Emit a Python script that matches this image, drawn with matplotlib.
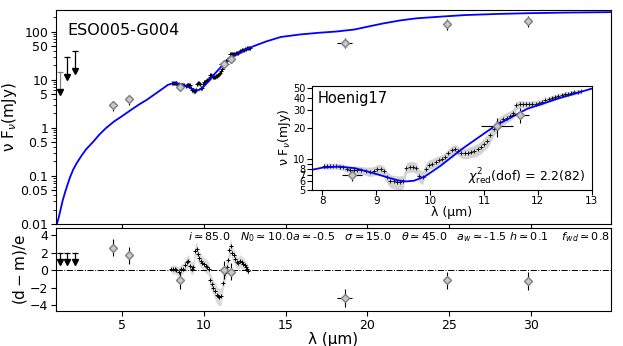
import matplotlib
matplotlib.use("Agg")
import matplotlib.pyplot as plt
from matplotlib.ticker import NullFormatter, FixedLocator, FixedFormatter

# model SED (micron, mJy)
model_wl = [1.0, 1.1, 1.2, 1.35, 1.5, 1.65, 1.8, 2.0, 2.2, 2.5, 2.8, 3.2, 3.6, 4.0,
            4.5, 5.0, 5.5, 6.0, 6.5, 7.0, 7.5, 7.8, 8.0, 8.3, 8.6, 8.8, 9.0, 9.2,
            9.4, 9.55, 9.7, 9.9, 10.2, 10.6, 11.2, 11.8, 12.4, 13.0, 13.8, 14.7,
            15.9, 17.0, 18.1, 19.2, 20.2, 21.0, 22.0, 23.0, 24.6, 26.0, 28.0,
            29.8, 32.0, 34.9]
model_flux = [0.01, 0.013, 0.018, 0.03, 0.045, 0.065, 0.092, 0.135, 0.18, 0.26,
              0.36, 0.5, 0.72, 0.98, 1.35, 1.75, 2.3, 3.0, 3.8, 5.0, 6.6, 7.8,
              8.2, 8.4, 8.1, 7.6, 7.1, 6.6, 6.15, 6.0, 6.1, 6.7, 8.6, 12.6, 21.0,
              31.0, 39.5, 49.0, 62.0, 77.0, 87.0, 94.0, 100.0, 110.0, 130.0,
              148.0, 170.0, 188.0, 205.0, 220.0, 232.0, 240.0, 247.0, 253.0]

# Hoenig17 spectrum
spec_wl = [8.02, 8.08, 8.14, 8.20, 8.26, 8.32, 8.38, 8.45, 8.52, 8.58, 8.65, 8.72,
           8.80, 8.88, 8.95, 9.02, 9.08, 9.14, 9.20, 9.26, 9.32, 9.38, 9.44, 9.50,
           9.56, 9.62, 9.68, 9.74, 9.80, 9.86, 9.92, 9.98, 10.04, 10.10, 10.16,
           10.22, 10.28, 10.34, 10.40, 10.46, 10.52, 10.58, 10.64, 10.70, 10.76,
           10.82, 10.88, 10.94, 11.00, 11.06, 11.12, 11.18, 11.24, 11.30, 11.36,
           11.42, 11.48, 11.54, 11.60, 11.66, 11.72, 11.78, 11.84, 11.90, 11.96,
           12.02, 12.08, 12.14, 12.20, 12.26, 12.32, 12.38, 12.44, 12.50, 12.56,
           12.62, 12.68, 12.74, 12.80]
spec_flux = [8.5, 8.5, 8.5, 8.5, 8.5, 8.4, 8.3, 8.0, 7.8, 7.8, 7.8, 7.7, 7.6, 7.5,
             7.6, 7.9, 7.9, 7.6, 6.6, 6.1, 6.0, 5.9, 5.9, 6.0, 8.2, 8.4, 8.4, 8.2,
             6.8, 6.6, 8.0, 8.8, 9.0, 9.4, 9.7, 10.0, 10.5, 11.3, 12.2, 12.5, 12.0,
             11.4, 11.3, 11.5, 11.8, 12.0, 12.4, 13.0, 14.0, 15.0, 17.0, 19.5,
             21.5, 23.0, 24.5, 25.5, 26.5, 28.0, 33.5, 34.5, 34.5, 34.5, 34.5,
             34.8, 35.0, 35.5, 36.0, 37.5, 38.5, 39.5, 40.5, 41.5, 42.0, 43.0,
             43.5, 44.5, 45.0, 45.5, 46.0]
spec_err = [0.6, 0.6, 0.6, 0.6, 0.6, 0.6, 0.6, 0.6, 0.7, 0.7, 0.7, 0.7, 0.7, 0.8,
            0.8, 0.9, 0.9, 0.9, 0.9, 0.9, 0.9, 0.9, 0.9, 0.9, 1.0, 1.0, 1.0, 1.0,
            1.0, 1.0, 1.0, 1.0, 1.0, 1.0, 1.0, 1.0, 1.1, 1.2, 1.3, 1.3, 1.3, 1.3,
            1.3, 1.4, 1.5, 1.6, 1.7, 1.8, 2.0, 2.2, 2.5, 2.8, 3.0, 3.0, 3.0, 3.0,
            3.0, 3.0, 3.0, 3.0, 2.8, 2.5, 2.5, 2.5, 2.5, 2.5, 2.5, 2.5, 2.5, 2.5,
            2.5, 2.5, 2.5, 2.5, 2.5, 2.5, 2.5, 2.5, 2.5]

# photometry
phot_wl = [4.46, 5.42, 8.55, 11.24, 11.67, 18.6, 24.85, 29.8]
phot_flux = [2.95, 3.9, 6.9, 21.0, 27.0, 59.0, 143.0, 167.0]
phot_xerr = [0.0, 0.0, 0.19, 0.29, 0.17, 0.44, 0.0, 0.0]
phot_yerr = [0.7, 0.9, 0.8, 4.5, 4.5, 13.0, 35.0, 40.0]
phot_res = [2.6, 1.7, -1.15, 0.05, -0.15, -3.2, -1.15, -1.25]

# upper limits
ul_wl = [1.2, 1.6, 2.1]
ul_flux = [14.7, 29.0, 40.0]

# residuals of the spectrum
res_wl = [8.0, 8.1, 8.2, 8.3, 8.45, 8.6, 8.7, 8.85, 8.95, 9.05, 9.15, 9.25, 9.35,
          9.46, 9.55, 9.62, 9.7, 9.8, 9.9, 10.0, 10.1, 10.2, 10.3, 10.38, 10.48,
          10.58, 10.69, 10.78, 10.88, 10.95, 11.05, 11.15, 11.3, 11.4, 11.5,
          11.56, 11.64, 11.72, 11.81, 11.9, 12.0, 12.1, 12.2, 12.3, 12.4, 12.5,
          12.58, 12.65, 12.72]
res_val = [0.15, 0.1, 0.1, 0.05, -0.2, 0.1, 0.2, 0.6, 0.9, 1.1, 0.5, 0.2, 0.4,
           2.2, 2.5, 1.9, 1.4, 1.1, 0.8, 0.7, 0.5, 0.4, 0.1, -1.1, -1.6, -2.0,
           -2.4, -2.8, -3.0, -3.1, -3.0, -1.5, -0.3, 0.4, 1.2, 2.3, 2.8, 2.0,
           1.7, 1.3, 0.95, 0.8, 1.1, 0.9, 0.75, 0.6, 0.4, 0.2, -0.1]
res_band = [0.5, 0.5, 0.5, 0.5, 0.6, 0.6, 0.6, 0.6, 0.7, 0.7, 0.7, 0.7, 0.8,
            0.8, 0.8, 0.8, 0.8, 0.8, 0.8, 0.8, 0.8, 0.8, 0.8, 0.8, 0.9, 0.9,
            1.0, 1.0, 1.0, 1.0, 1.0, 1.0, 0.9, 0.9, 0.9, 0.9, 0.9, 0.8, 0.8,
            0.8, 0.7, 0.7, 0.7, 0.7, 0.7, 0.6, 0.6, 0.6, 0.6]

main_yticks = [0.01, 0.05, 0.1, 0.5, 1, 5, 10, 50, 100]
main_ylabels = ['0.01', '0.05', '0.1', '0.5', '1', '5', '10', '50', '100']
inset_yticks = [5, 6, 7, 8, 9, 10, 20, 30, 40, 50]
inset_ylabels = ['5', '6', '7', '8', '', '10', '20', '30', '40', '50']

params = (r'$i\simeq$85.0   $N_0\simeq$10.0$a\simeq$-0.5   $\sigma\simeq$15.0   '
          r'$\theta\simeq$45.0   $a_w\simeq$-1.5 $h\simeq$0.1    $f_{wd}\simeq$0.8')

band_col = '#d3d3d3'
dia_face = '#c8c8c8'

fig = plt.figure(figsize=(6.23, 3.46), dpi=100)
ax = fig.add_axes([0.0899, 0.3526, 0.8908, 0.6185])
axr = fig.add_axes([0.0899, 0.1003, 0.8908, 0.2407], sharex=ax)
axi = fig.add_axes([0.5003, 0.4523, 0.4494, 0.2991])

# ---- main panel
lo = [f - e for f, e in zip(spec_flux, spec_err)]
hi = [f + e for f, e in zip(spec_flux, spec_err)]
ax.fill_between(spec_wl, lo, hi, color=band_col, lw=0)
ax.plot(spec_wl, spec_flux, '+', color='k', ms=3, mew=0.7)
ax.plot(model_wl, model_flux, '-', color='blue', lw=1.3)
ax.errorbar(phot_wl, phot_flux, xerr=phot_xerr, yerr=phot_yerr, fmt='D',
            mfc=dia_face, mec='grey', ms=4.5, ecolor='k', elinewidth=0.8, capsize=0)
for k, (w, f) in enumerate(zip(ul_wl, ul_flux)):
    lc = 'grey' if k == 0 else 'k'
    ax.plot([w, w], [f, f / 2.6], color=lc, lw=0.9)
    ax.plot([w], [f], '_', color=lc, ms=5, mew=0.9)
    ax.plot([w], [f / 2.6], 'v', color='k', ms=4.5)
ax.set_yscale('log')
ax.set_ylim(0.01, 280)
ax.set_xlim(0.95, 34.9)
ax.yaxis.set_major_locator(FixedLocator(main_yticks))
ax.yaxis.set_major_formatter(FixedFormatter(main_ylabels))
ax.yaxis.set_minor_formatter(NullFormatter())
ax.tick_params(axis='x', labelbottom=False)
ax.tick_params(labelsize=9, pad=2)
ax.set_ylabel(r'ν F$_\nu$(mJy)', fontsize=11, labelpad=1)
ax.text(0.02, 0.94, 'ESO005-G004', transform=ax.transAxes, fontsize=11.5,
        ha='left', va='top')

# ---- residual panel
rlo = [v - b for v, b in zip(res_val, res_band)]
rhi = [v + b for v, b in zip(res_val, res_band)]
axr.fill_between(res_wl, rlo, rhi, color=band_col, lw=0, alpha=0.8)
axr.plot(res_wl, res_val, '+', color='k', ms=3, mew=0.7)
axr.axhline(0, color='k', ls='-.', lw=0.7)
axr.errorbar(phot_wl, phot_res, xerr=phot_xerr, yerr=1.0, fmt='D', mfc=dia_face,
             mec='grey', ms=4.5, ecolor='k', elinewidth=0.8, capsize=0)
for w in ul_wl:
    axr.plot([w, w], [2.0, 0.9], color='k', lw=0.9)
    axr.plot([w], [2.0], '_', color='k', ms=5, mew=0.9)
    axr.plot([w], [0.9], 'v', color='k', ms=4.5)
axr.set_ylim(-4.7, 4.85)
axr.set_yticks([-4, -2, 0, 2, 4])
axr.set_xticks([5, 10, 15, 20, 25, 30])
axr.tick_params(labelsize=9, pad=2)
axr.set_xlabel('λ (μm)', fontsize=11, labelpad=0)
axr.set_ylabel(r'$\mathrm{(d-m)/e}$', fontsize=11, labelpad=1)
axr.text(0.998, 0.97, params, transform=axr.transAxes, fontsize=8,
         ha='right', va='top')

# ---- inset
axi.fill_between(spec_wl, lo, hi, color=band_col, lw=0)
axi.plot(spec_wl, spec_flux, '+', color='k', ms=3, mew=0.6)
axi.plot(model_wl, model_flux, '-', color='blue', lw=1.3)
axi.errorbar(phot_wl, phot_flux, xerr=phot_xerr, yerr=phot_yerr, fmt='D',
             mfc=dia_face, mec='grey', ms=4.5, ecolor='k', elinewidth=0.8, capsize=0)
axi.set_yscale('log')
axi.set_xlim(7.8, 13)
axi.set_ylim(5, 52)
axi.yaxis.set_major_locator(FixedLocator(inset_yticks))
axi.yaxis.set_major_formatter(FixedFormatter(inset_ylabels))
axi.yaxis.set_minor_locator(FixedLocator([]))
axi.set_xticks([8, 9, 10, 11, 12, 13])
axi.tick_params(axis='x', labelsize=7.5, pad=1)
axi.tick_params(axis='y', labelsize=7, pad=1)
axi.set_xlabel('λ (μm)', fontsize=9, labelpad=0)
axi.set_ylabel(r'ν F$_\nu$(mJy)', fontsize=9, labelpad=0)
axi.text(0.02, 0.95, 'Hoenig17', transform=axi.transAxes, fontsize=10.5,
         ha='left', va='top')
axi.text(0.56, 0.12, r'$\chi^2_{\rm red}$(dof) = 2.2(82)', transform=axi.transAxes,
         fontsize=9, ha='left', va='center')

fig.savefig('out.png', dpi=100)
